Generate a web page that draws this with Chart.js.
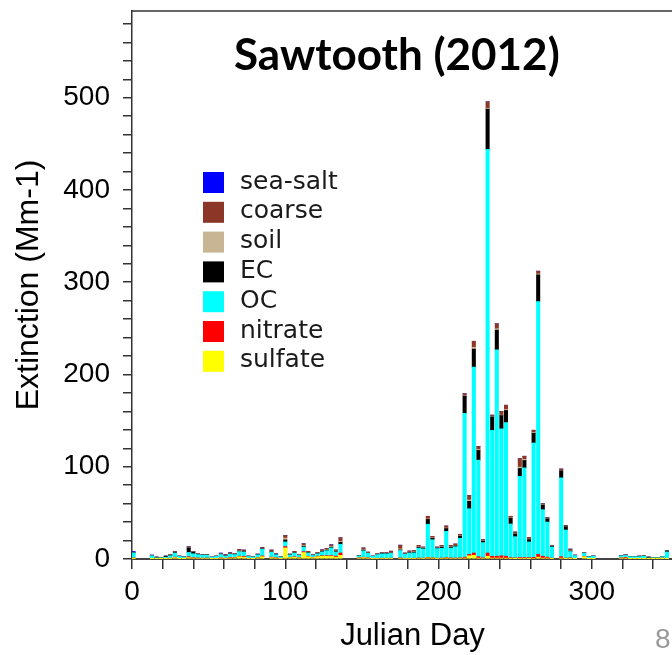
<!DOCTYPE html>
<html>
<head>
<meta charset="utf-8">
<title>Sawtooth (2012)</title>
<script src="https://cdn.jsdelivr.net/npm/chart.js@4.4.1/dist/chart.umd.min.js"></script>
<style>
  html, body { margin: 0; padding: 0; background: #fff; overflow: hidden; }
  #wrap { width: 672px; height: 655px; overflow: hidden; }
</style>
</head>
<body>
<div id="wrap">
  <canvas id="extChart" width="700" height="655"></canvas>
</div>
<script>
// sampling days (every third day, gaps where no valid sample)
var days = [1, 13, 16, 19, 22, 25, 28, 31, 34, 37,
  40, 43, 46, 49, 52, 55, 58, 61, 64, 67,
  70, 73, 76, 79, 82, 85, 91, 94, 97, 100,
  103, 106, 109, 112, 115, 118, 121, 124, 127, 130,
  133, 136, 148, 151, 154, 157, 160, 163, 166, 169,
  175, 178, 181, 184, 187, 190, 193, 196, 199, 202,
  205, 208, 211, 214, 217, 220, 223, 226, 229, 232,
  235, 238, 241, 244, 247, 250, 253, 256, 259, 262,
  265, 268, 271, 274, 280, 283, 286, 289, 295, 298,
  301, 319, 322, 325, 328, 331, 334, 337, 340, 343,
  346, 349];

// light extinction by species, Mm-1
var sulfate = [0.4, 0.3, 0.2, 0.2, 0.3, 0.5, 1.5, 0.4, 0.3, 1.5,
  1.0, 0.8, 0.7, 0.8, 0.3, 0.5, 1.0, 0.6, 1.0, 1.2,
  2.5, 2.0, 0.6, 0.4, 1.2, 2.5, 1.5, 1.0, 0.5, 12.0,
  1.5, 2.0, 1.2, 7.0, 2.5, 1.5, 2.5, 3.0, 3.0, 3.0,
  2.0, 4.0, 1.0, 1.5, 1.0, 0.5, 0.6, 0.7, 0.6, 0.6,
  0.8, 0.6, 0.6, 0.6, 0.8, 0.7, 1.2, 1.0, 0.6, 0.8,
  1.0, 0.8, 0.8, 0.8, 1.0, 3.5, 4.0, 1.0, 0.8, 3.0,
  1.0, 1.0, 1.0, 1.0, 0.5, 0.4, 0.6, 0.6, 0.5, 0.8,
  2.0, 1.0, 1.0, 0.5, 1.0, 0.5, 0.5, 0.3, 2.5, 0.3,
  0.3, 1.0, 1.0, 0.3, 0.3, 0.4, 0.4, 0.3, 0.2, 0.2,
  0.3, 0.3];

var nitrate = [0.8, 0.2, 0.1, 0.1, 0.4, 0.5, 0.5, 0.2, 0.1, 1.0,
  0.5, 0.4, 0.3, 0.3, 0.1, 0.2, 0.3, 0.4, 0.5, 0.4,
  0.6, 0.8, 0.2, 0.2, 0.3, 0.8, 0.6, 0.4, 0.3, 1.5,
  0.4, 0.5, 0.3, 1.0, 0.5, 0.3, 0.6, 0.6, 0.7, 0.8,
  1.0, 2.5, 0.3, 0.4, 0.3, 0.2, 0.2, 0.2, 0.2, 0.3,
  0.4, 0.2, 0.2, 0.3, 0.3, 0.3, 0.5, 0.4, 0.3, 0.3,
  0.5, 0.4, 0.3, 0.4, 1.0, 1.5, 2.5, 1.5, 0.5, 3.5,
  2.0, 2.0, 2.5, 2.0, 1.0, 0.8, 1.0, 1.0, 1.0, 1.0,
  3.0, 2.0, 1.0, 0.5, 1.5, 0.5, 0.8, 0.2, 0.3, 0.2,
  0.2, 0.3, 0.8, 0.2, 0.2, 0.2, 0.3, 0.2, 0.2, 0.2,
  0.8, 0.4];

var oc = [5.4, 3.0, 1.0, 0.9, 1.2, 2.6, 4.4, 2.2, 1.7, 4.6,
  4.2, 3.6, 3.2, 3.1, 1.5, 2.1, 3.6, 2.2, 3.6, 3.2,
  5.0, 4.6, 2.0, 1.5, 3.0, 7.2, 5.2, 3.2, 1.3, 5.0,
  2.5, 3.8, 2.4, 5.0, 3.5, 2.0, 2.6, 4.0, 5.3, 8.3,
  4.5, 9.5, 2.0, 7.0, 4.8, 2.2, 4.0, 4.7, 4.8, 5.2,
  8.0, 4.3, 5.6, 5.7, 10.6, 10.0, 36.0, 19.5, 10.4, 10.5,
  28.5, 10.6, 12.2, 21.3, 156.0, 49.5, 201.5, 104.7, 16.5, 437.5,
  136.5, 223.6, 137.5, 145.0, 36.5, 23.0, 88.0, 97.2, 17.0, 124.0,
  274.0, 50.5, 38.0, 12.0, 85.5, 30.4, 6.8, 3.3, 3.5, 1.8,
  2.6, 2.0, 2.1, 2.0, 2.0, 2.0, 2.4, 0.6, 0.9, 0.9,
  1.5, 7.0];

var ec = [0.3, 0.2, 0.6, 0.1, 0.9, 0.6, 0.6, 0.2, 0.2, 5.0,
  1.8, 0.4, 0.3, 0.3, 0.1, 0.2, 0.4, 0.4, 0.4, 0.3,
  0.6, 0.5, 0.2, 0.1, 0.3, 0.6, 0.5, 0.3, 0.1, 2.2,
  0.3, 0.5, 0.2, 0.8, 0.4, 0.3, 0.3, 0.5, 0.5, 0.7,
  0.5, 2.0, 0.2, 0.6, 0.4, 0.1, 0.3, 0.4, 0.4, 0.4,
  0.6, 0.3, 0.5, 0.5, 0.8, 0.6, 5.2, 1.6, 0.7, 1.2,
  3.0, 1.0, 1.0, 2.0, 18.3, 8.0, 19.5, 10.5, 1.5, 43.6,
  14.5, 21.5, 14.5, 13.0, 6.0, 3.0, 8.5, 8.0, 2.5, 10.5,
  29.0, 5.0, 3.5, 1.0, 7.6, 3.6, 0.5, 0.2, 0.2, 0.1,
  0.1, 0.2, 0.3, 0.1, 0.1, 0.3, 0.3, 0.9, 0.1, 0.1,
  0.1, 1.0];

var soil = [0.2, 0.2, 0.1, 0.1, 0.1, 0.2, 0.3, 0.1, 0.1, 0.4,
  0.2, 0.2, 0.1, 0.1, 0.1, 0.1, 0.2, 0.2, 0.3, 0.2,
  0.4, 0.4, 0.1, 0.1, 0.2, 0.3, 0.5, 0.3, 0.1, 2.0,
  0.2, 0.4, 0.2, 0.8, 0.4, 0.2, 0.3, 0.5, 0.5, 0.8,
  0.5, 1.0, 0.1, 0.5, 0.3, 0.1, 0.3, 0.3, 0.3, 0.4,
  1.2, 0.3, 0.5, 0.6, 0.6, 0.4, 0.6, 0.5, 0.3, 0.5,
  0.6, 0.5, 0.5, 0.5, 0.5, 1.5, 2.0, 1.0, 0.4, 1.0,
  0.5, 1.5, 0.5, 1.0, 0.5, 0.5, 1.5, 1.2, 0.5, 0.8,
  1.0, 0.5, 0.3, 0.3, 0.3, 0.3, 0.5, 0.1, 0.2, 0.1,
  0.1, 0.2, 0.2, 0.1, 0.1, 0.1, 0.2, 0.1, 0.1, 0.1,
  0.1, 0.1];

var coarse = [0.3, 0.3, 0.2, 0.1, 0.4, 0.5, 0.9, 0.2, 0.1, 0.8,
  0.5, 0.4, 0.4, 0.4, 0.1, 0.2, 0.6, 0.9, 1.0, 0.7,
  1.3, 1.4, 0.2, 0.2, 0.4, 1.1, 1.4, 0.6, 0.2, 2.8,
  0.5, 1.1, 0.4, 1.9, 1.0, 0.4, 0.9, 1.4, 1.6, 1.8,
  1.3, 4.0, 0.4, 2.0, 0.7, 0.2, 0.6, 0.7, 0.7, 1.6,
  4.0, 0.8, 1.3, 1.5, 1.7, 1.0, 2.8, 1.6, 0.7, 1.5,
  2.2, 1.5, 1.5, 1.8, 2.5, 5.0, 6.5, 3.3, 1.3, 7.0,
  1.5, 5.4, 4.0, 4.7, 1.8, 1.6, 9.2, 3.4, 2.0, 2.5,
  3.0, 1.0, 1.0, 0.5, 1.7, 1.2, 1.7, 0.2, 0.2, 0.0,
  0.0, 0.3, 0.3, 0.2, 0.2, 0.3, 0.4, 0.1, 0.0, 0.0,
  0.1, 0.2];

var seaSalt = [0.8, 0.1, 0.0, 0.0, 0.0, 0.1, 0.1, 0.0, 0.0, 0.1,
  0.1, 0.0, 0.0, 0.0, 0.0, 0.0, 0.4, 0.0, 0.1, 0.1,
  0.1, 0.1, 0.0, 0.0, 0.0, 0.1, 0.1, 0.0, 0.0, 0.2,
  0.0, 0.0, 0.0, 0.1, 0.0, 0.0, 0.0, 0.0, 0.0, 0.1,
  0.0, 0.0, 0.0, 0.0, 0.0, 0.0, 0.0, 0.0, 0.0, 0.0,
  0.0, 0.0, 0.0, 0.0, 0.0, 0.0, 0.0, 0.0, 0.0, 0.0,
  0.0, 0.0, 0.0, 0.0, 0.0, 0.0, 0.0, 0.0, 0.0, 0.0,
  0.0, 0.0, 0.0, 0.0, 0.0, 0.0, 0.0, 0.0, 0.0, 0.0,
  0.0, 0.0, 0.0, 0.0, 0.0, 0.0, 0.0, 0.0, 0.0, 0.0,
  0.0, 0.0, 0.0, 0.0, 0.0, 0.0, 0.0, 0.0, 0.0, 0.0,
  0.0, 0.0];

var yLabels = [0, 100, 200, 300, 400, 500];
var xLabels = [0, 100, 200, 300];

function toPoints(vals) {
  return vals.map(function (v, i) { return { x: days[i], y: v }; });
}

// stacked bottom to top
var species = [
  { label: 'sulfate', data: sulfate, color: '#ffff00' },
  { label: 'nitrate', data: nitrate, color: '#ff0000' },
  { label: 'OC', data: oc, color: '#00ffff' },
  { label: 'EC', data: ec, color: '#000000' },
  { label: 'soil', data: soil, color: '#c8b593' },
  { label: 'coarse', data: coarse, color: '#8b3626' },
  { label: 'sea-salt', data: seaSalt, color: '#0000ff' }
];

var textPlugin = {
  id: 'extras',
  afterDraw: function (chart) {
    var ctx = chart.ctx;
    var area = chart.chartArea;
    ctx.save();
    // top frame line
    ctx.strokeStyle = '#333';
    ctx.lineWidth = 1.5;
    ctx.beginPath();
    ctx.moveTo(area.left, area.top);
    ctx.lineTo(area.right, area.top);
    ctx.stroke();

    // title
    ctx.fillStyle = '#000';
    ctx.font = 'bold 44px Lato';
    ctx.textAlign = 'left';
    ctx.textBaseline = 'alphabetic';
    ctx.fillText('Sawtooth (2012)', 234, 70);

    // legend, top entry is the top of the stack
    var sets = chart.data.datasets.slice().reverse();
    ctx.font = '25px "DejaVu Sans"';
    ctx.textBaseline = 'middle';
    sets.forEach(function (ds, i) {
      var y = 172 + i * 29.8;
      ctx.fillStyle = ds.backgroundColor;
      ctx.fillRect(203, y, 21, 21);
      ctx.fillStyle = '#1a1a1a';
      ctx.fillText(ds.label, 240, y + 10);
    });

    // page number
    ctx.fillStyle = '#999';
    ctx.font = '28px "Liberation Sans"';
    ctx.textBaseline = 'alphabetic';
    ctx.fillText('8', 655, 648);
    ctx.restore();
  }
};

var chart = new Chart(document.getElementById('extChart'), {
  type: 'bar',
  data: {
    datasets: species.map(function (s) {
      return {
        label: s.label,
        data: toPoints(s.data),
        backgroundColor: s.color,
        borderWidth: 0,
        barThickness: 3.4
      };
    })
  },
  options: {
    responsive: false,
    animation: false,
    layout: { padding: { top: 11, right: 7, left: 0, bottom: 0 } },
    plugins: {
      legend: { display: false },
      tooltip: { enabled: false }
    },
    scales: {
      x: {
        type: 'linear',
        stacked: true,
        offset: false,
        min: 0,
        max: 366,
        afterFit: function (scale) {
          scale.height = 96;
          scale.paddingLeft = 0;
          scale.paddingRight = 0;
        },
        grid: { offset: false, drawOnChartArea: false, tickLength: 10, color: '#333', lineWidth: 1.5 },
        border: { display: true, color: '#444', width: 2 },
        ticks: {
          stepSize: 20,
          includeBounds: false,
          autoSkip: false,
          maxRotation: 0,
          padding: 6,
          color: '#000',
          font: { family: 'Liberation Sans', size: 28 },
          callback: function (v) { return xLabels.indexOf(v) >= 0 ? String(v) : ''; }
        },
        title: {
          display: true,
          text: 'Julian Day',
          color: '#000',
          font: { family: 'Liberation Sans', size: 31 },
          padding: { top: 0, bottom: 0 }
        }
      },
      y: {
        stacked: true,
        min: 0,
        max: 594,
        afterFit: function (scale) {
          scale.width = 132;
          scale.paddingTop = 0;
          scale.paddingBottom = 0;
        },
        grid: { drawOnChartArea: false, tickLength: 9, color: '#333', lineWidth: 1.5 },
        border: { display: true, color: '#333', width: 1.5 },
        ticks: {
          stepSize: 20,
          includeBounds: false,
          autoSkip: false,
          padding: 13,
          color: '#000',
          font: { family: 'Liberation Sans', size: 28 },
          callback: function (v) { return yLabels.indexOf(v) >= 0 ? String(v) : ''; }
        },
        title: {
          display: true,
          text: 'Extinction (Mm-1)',
          color: '#000',
          font: { family: 'Liberation Sans', size: 32 },
          padding: { top: 10, bottom: 0 }
        }
      }
    }
  },
  plugins: [textPlugin]
});
</script>
</body>
</html>
